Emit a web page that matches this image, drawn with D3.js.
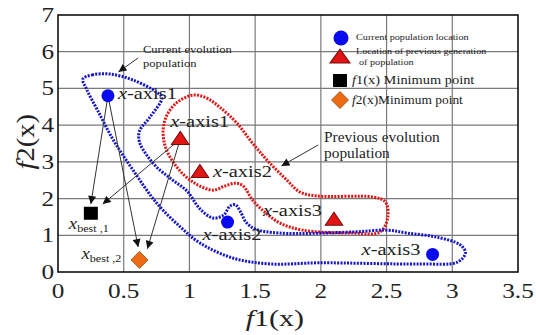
<!DOCTYPE html>
<html>
<head>
<meta charset="utf-8">
<script src="https://cdn.jsdelivr.net/npm/d3@7"></script>
<style>
  body { margin: 0; background: #fff; }
  text { font-family: "Liberation Serif", "DejaVu Serif", serif; fill: #222; }
</style>
</head>
<body>
<script>
// SVG VARIABLES
var width = 536;
var height = 335;
var margin = {left: 58, top: 15, right: 18, bottom: 63};

// DATA
var xTicks = [0, 0.5, 1, 1.5, 2, 2.5, 3, 3.5];
var yTicks = [0, 1, 2, 3, 4, 5, 6, 7];
var currentPop = [[0.38, 4.80], [1.29, 1.36], [2.85, 0.48]];   // blue circles
var previousPop = [[0.93, 3.62], [1.08, 2.72], [2.10, 1.42]];  // red triangles
var popLabels = ["-axis1", "-axis2", "-axis3"];
var f1Min = [0.25, 1.60];
var f2Min = [0.62, 0.33];
// where the arrows stop (just above the minimum markers)
var f1ArrowEnds = [[0.25, 1.85], [0.34, 1.85]];
var f2ArrowEnds = [[0.61, 0.68], [0.68, 0.63]];

// outline of current evolution population (blue)
var currentOutline = [[0.19,5.26],[0.26,5.37],[0.40,5.39],[0.57,5.23],[0.75,4.90],[0.79,4.74],
  [0.70,4.22],[0.62,3.84],[0.62,3.54],[0.67,3.21],[0.75,2.86],[0.87,2.51],[0.98,2.21],[1.08,1.72],
  [1.18,1.47],[1.26,1.55],[1.31,1.80],[1.35,1.83],[1.39,1.63],[1.43,1.36],[1.50,1.17],[1.69,1.06],
  [2.24,1.09],[2.50,1.14],[2.66,1.06],[2.88,0.95],[3.06,0.74],[3.10,0.52],[3.04,0.27],[2.75,0.22],
  [1.99,0.25],[1.61,0.22],[1.33,0.38],[1.08,0.79],[0.93,1.23],[0.75,1.88],[0.57,2.78],[0.42,3.60],
  [0.30,4.41],[0.22,4.96]];
// outline of previous evolution population (red)
var previousOutline = [[1.03,4.82],[1.13,4.74],[1.23,4.49],[1.36,4.06],[1.48,3.51],[1.61,2.97],
  [1.74,2.51],[1.84,2.18],[1.97,2.07],[2.40,2.04],[2.49,1.91],[2.51,1.50],[2.45,1.09],[2.24,1.06],
  [1.86,1.14],[1.69,1.33],[1.58,1.61],[1.48,1.96],[1.41,2.34],[1.35,2.42],[1.27,2.34],[1.18,2.23],
  [1.04,2.42],[0.91,2.83],[0.82,3.38],[0.80,3.87],[0.83,4.28],[0.91,4.63]];

var blue = "#0a0aee";
var red = "#e31414";
var orange = "#ee6a14";

var svg = d3.select("body").append("svg")
  .attr("width", width)
  .attr("height", height);

var defs = svg.append("defs");
defs.append("marker").attr("id", "head")
  .attr("viewBox", "0 0 10 10").attr("refX", 10).attr("refY", 5)
  .attr("markerWidth", 9).attr("markerHeight", 8)
  .attr("markerUnits", "userSpaceOnUse").attr("orient", "auto")
  .append("path").attr("d", "M0,0 L10,5 L0,10 z").attr("fill", "#111");

var x = d3.scaleLinear().domain([0, 3.5]).range([margin.left, width - margin.right]);
var y = d3.scaleLinear().domain([0, 7]).range([height - margin.bottom, margin.top]);

// text that is a bit wider than the font (the picture is stretched)
function stext(g, px, py, sx, size, anchor) {
  return g.append("g")
    .attr("transform", "translate(" + px + "," + py + ") scale(" + sx + ",1)")
    .append("text")
    .attr("font-size", size)
    .attr("text-anchor", anchor || "start");
}

// GRID
var grid = svg.append("g");
grid.selectAll(".gx").data(xTicks.slice(1, -1)).enter().append("line")
  .attr("x1", d => x(d)).attr("x2", d => x(d))
  .attr("y1", y(0)).attr("y2", y(7))
  .attr("stroke", "#7a7a7a").attr("stroke-width", 1.2);
grid.selectAll(".gy").data(yTicks.slice(1, -1)).enter().append("line")
  .attr("y1", d => y(d)).attr("y2", d => y(d))
  .attr("x1", x(0)).attr("x2", x(3.5))
  .attr("stroke", "#7a7a7a").attr("stroke-width", 1.2);

// frame
svg.append("rect")
  .attr("x", x(0)).attr("y", y(7))
  .attr("width", x(3.5) - x(0)).attr("height", y(0) - y(7))
  .attr("fill", "none").attr("stroke", "#111").attr("stroke-width", 1.6);

// tick labels
var xAxisG = svg.append("g");
xTicks.forEach(function(t) {
  stext(xAxisG, x(t), y(0) + 26, 1.2, 21, "middle").text(t);
});
yTicks.forEach(function(t) {
  stext(svg, x(0) - 4, y(t) + 7, 1.2, 21, "end").text(t);
});

// axis titles
var xl = stext(svg, x(1.65), height - 9, 1.25, 24, "middle");
xl.append("tspan").attr("font-style", "italic").text("f");
xl.append("tspan").text("1(x)");
var yl = svg.append("g").attr("transform", "translate(34," + y(3.55) + ") rotate(-90) scale(1.3,1.1)")
  .append("text").attr("font-size", 22).attr("text-anchor", "middle");
yl.append("tspan").attr("font-style", "italic").text("f");
yl.append("tspan").text("2(x)");

// OUTLINES
var outline = d3.line()
  .x(d => x(d[0])).y(d => y(d[1]))
  .curve(d3.curveCatmullRomClosed.alpha(0.5));
svg.append("path").attr("d", outline(previousOutline))
  .attr("fill", "none").attr("stroke", red).attr("stroke-width", 3)
  .attr("stroke-dasharray", "2 1.3");
svg.append("path").attr("d", outline(currentOutline))
  .attr("fill", "none").attr("stroke", "#1616c8").attr("stroke-width", 3)
  .attr("stroke-dasharray", "2 1.3");

// ARROWS to the minimum points
var arrowG = svg.append("g");
function arrow(from, to) {
  arrowG.append("line")
    .attr("x1", x(from[0])).attr("y1", y(from[1]))
    .attr("x2", x(to[0])).attr("y2", y(to[1]))
    .attr("stroke", "#333").attr("stroke-width", 1)
    .attr("marker-end", "url(#head)");
}
arrow(currentPop[0], f1ArrowEnds[0]);
arrow(previousPop[0], f1ArrowEnds[1]);
arrow(currentPop[0], f2ArrowEnds[0]);
arrow(previousPop[0], f2ArrowEnds[1]);
// annotation arrows
arrow([0.61, 5.83], [0.46, 5.45]);
arrow([1.98, 3.46], [1.70, 2.89]);

// MARKERS
var tri = d3.symbol().type(d3.symbolTriangle).size(110);
svg.selectAll(".prev").data(previousPop).enter().append("path")
  .attr("d", tri)
  .attr("transform", d => "translate(" + x(d[0]) + "," + (y(d[1]) + 1) + ") scale(1.1,0.95)")
  .attr("fill", red).attr("stroke", "#7a0a0a").attr("stroke-width", 1);
svg.selectAll(".cur").data(currentPop).enter().append("circle")
  .attr("cx", d => x(d[0])).attr("cy", d => y(d[1])).attr("r", 6.5)
  .attr("fill", blue);
svg.append("rect")
  .attr("x", x(f1Min[0]) - 7).attr("y", y(f1Min[1]) - 6.5)
  .attr("width", 14).attr("height", 13).attr("fill", "#000");
svg.append("path")
  .attr("d", "M0,-8.5 L8.5,0 L0,8.5 L-8.5,0 Z")
  .attr("transform", "translate(" + x(f2Min[0]) + "," + y(f2Min[1]) + ")")
  .attr("fill", orange).attr("stroke", "#8a4a10").attr("stroke-width", 0.8);

// point labels
var curOffsets = [[10, 3], [-25, 18], [-71, 1]];
var prevOffsets = [[-10, -12], [13, 5], [-71, -4]];
function popLabel(px, py, suffix) {
  var t = stext(svg, px, py, 1.2, 17, "start");
  t.append("tspan").attr("font-style", "italic").text("x");
  t.append("tspan").text(suffix);
}
currentPop.forEach(function(d, i) {
  popLabel(x(d[0]) + curOffsets[i][0], y(d[1]) + curOffsets[i][1], popLabels[i]);
});
previousPop.forEach(function(d, i) {
  popLabel(x(d[0]) + prevOffsets[i][0], y(d[1]) + prevOffsets[i][1], popLabels[i]);
});

// x best labels
function bestLabel(px, py, sub) {
  var t = stext(svg, px, py, 1.1, 17, "start");
  t.append("tspan").attr("font-style", "italic").text("x");
  t.append("tspan").attr("font-size", 11).attr("dy", 3).text(sub);
}
bestLabel(x(f1Min[0]) - 22, y(f1Min[1]) + 16, "best ,1");
bestLabel(x(f2Min[0]) - 58, y(f2Min[1]) - 1, "best ,2");

// annotations
stext(svg, 143, 53, 1.14, 11).text("Current evolution");
stext(svg, 143, 67, 1.14, 11).text("population");
stext(svg, 324, 142, 1.1, 14).text("Previous evolution");
stext(svg, 324, 158, 1.1, 14).text("population");

// LEGEND
var leg = svg.append("g");
leg.append("circle").attr("cx", 341).attr("cy", 38).attr("r", 7.5).attr("fill", blue);
leg.append("path").attr("d", tri)
  .attr("transform", "translate(340,58.5) scale(1.25,1)")
  .attr("fill", red).attr("stroke", "#7a0a0a").attr("stroke-width", 1);
leg.append("rect").attr("x", 333).attr("y", 74).attr("width", 14).attr("height", 13).attr("fill", "#000");
leg.append("path").attr("d", "M0,-8.5 L8.5,0 L0,8.5 L-8.5,0 Z")
  .attr("transform", "translate(340,100)")
  .attr("fill", orange).attr("stroke", "#8a4a10").attr("stroke-width", 0.8);
stext(leg, 356, 40, 1.2, 8.5).text("Current population location");
stext(leg, 356, 54, 1.2, 8.5).text("Location of previous generation");
stext(leg, 359, 65, 1.2, 8.5).text("of population");
var l3 = stext(leg, 352, 84, 1.2, 12);
l3.append("tspan").attr("font-style", "italic").text("f");
l3.append("tspan").text("1(x) Minimum point");
var l4 = stext(leg, 352, 104, 1.12, 12);
l4.append("tspan").attr("font-style", "italic").text("f");
l4.append("tspan").text("2(x)Minimum point");
</script>
</body>
</html>
